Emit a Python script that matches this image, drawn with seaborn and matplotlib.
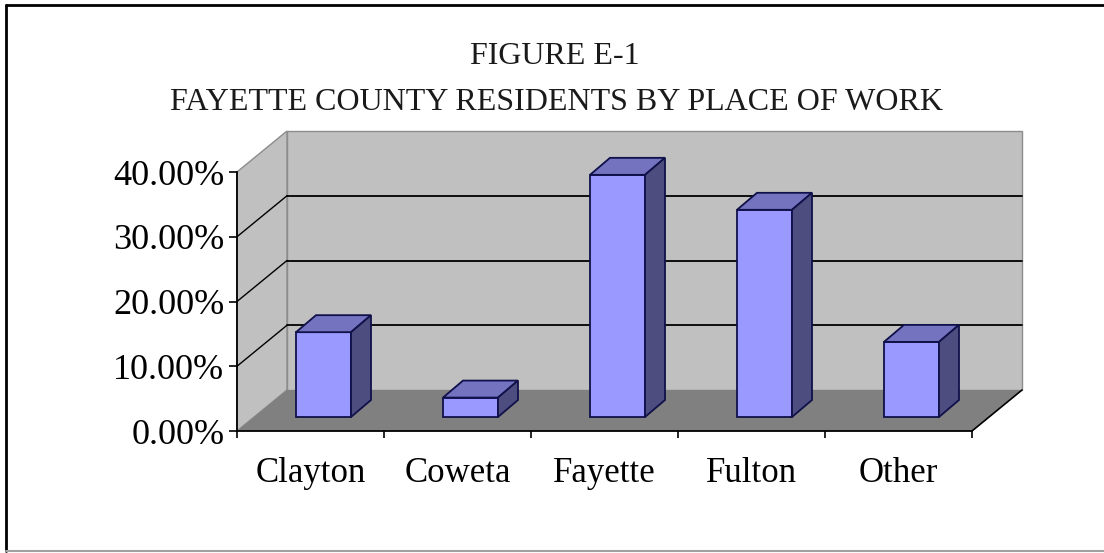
import matplotlib
matplotlib.use("Agg")
import matplotlib.pyplot as plt
import seaborn as sns
import pandas as pd
from matplotlib.patches import Polygon
from matplotlib.lines import Line2D

# ---- data ----
categories = ["Clayton", "Coweta", "Fayette", "Fulton", "Other"]
shares = [13.1, 3.0, 37.4, 32.0, 11.6]          # percent
y_ticks = [0, 10, 20, 30, 40]
y_tick_labels = ["0.00%", "10.00%", "20.00%", "30.00%", "40.00%"]
title_line1 = "FIGURE E-1"
title_line2 = "FAYETTE COUNTY RESIDENTS BY PLACE OF WORK"

sns.set_theme(style="white")
plt.rcParams["font.family"] = ["Liberation Serif", "DejaVu Serif"]

W, H = 1104, 553
fig = plt.figure(figsize=(W / 100, H / 100), dpi=100)
fig.patch.set_facecolor("white")

# geometry in pixels -> data units
PX_CAT = 147.0     # pixels per category
PX_PCT = 6.475     # pixels per percent
ax_left, ax_base, ax_w, ax_h = 237, 431, 784, 294
ax = fig.add_axes([ax_left / W, (H - ax_base) / H, ax_w / W, ax_h / H])
ax.set_facecolor("none")

DX = 50 / PX_CAT       # wall depth offset (x, category units)
DY = 41 / PX_PCT       # wall depth offset (y, percent units)
n = len(categories)
xl, xr = -0.5, n - 0.5
ymax = y_ticks[-1]

wall_c = "#c0c0c0"
floor_c = "#808080"
edge_gray = "#8c8c8c"

# back wall
ax.add_patch(Polygon([(xl + DX, DY), (xr + DX, DY), (xr + DX, ymax + DY), (xl + DX, ymax + DY)],
                     closed=True, facecolor=wall_c, edgecolor=edge_gray, lw=1, zorder=0,
                     clip_on=False))
# left wall
ax.add_patch(Polygon([(xl, 0), (xl + DX, DY), (xl + DX, ymax + DY), (xl, ymax)],
                     closed=True, facecolor=wall_c, edgecolor=edge_gray, lw=1, zorder=0,
                     clip_on=False))
# floor
ax.add_patch(Polygon([(xl, 0), (xr, 0), (xr + DX, DY), (xl + DX, DY)],
                     closed=True, facecolor=floor_c, edgecolor="none", zorder=0.5,
                     clip_on=False))
# gridlines
for v in y_ticks[1:-1]:
    ax.plot([xl + DX, xr + DX], [v + DY, v + DY], color="black", lw=1.3, zorder=0.6,
            clip_on=False)
    ax.plot([xl, xl + DX], [v, v + DY], color="black", lw=1.0, zorder=0.6, clip_on=False)
# floor right edge
ax.plot([xr, xr + DX], [0, DY], color="black", lw=1.2, zorder=0.6, clip_on=False)

# ---- bars ----
df = pd.DataFrame({"place": categories, "share": shares})
BAR_W = 55 / PX_CAT
sns.barplot(data=df, x="place", y="share", width=BAR_W, color="#9999ff",
            saturation=1, edgecolor="#10104a", linewidth=1.3, ax=ax, zorder=3)

off_x, off_y = 13 / PX_CAT, 14 / PX_PCT   # bar placement inside the depth
dzx, dzy = 20 / PX_CAT, 17 / PX_PCT       # bar depth
bars = [p for p in ax.patches if p.get_zorder() == 3]
for p in bars:
    p.set_x(p.get_x() + off_x)
    p.set_y(p.get_y() + off_y)
    x0, y0 = p.get_x(), p.get_y()
    x1, y1 = x0 + p.get_width(), y0 + p.get_height()
    top = Polygon([(x0, y1), (x1, y1), (x1 + dzx, y1 + dzy), (x0 + dzx, y1 + dzy)],
                  closed=True, facecolor="#7373bf", edgecolor="#10104a", lw=1.3, zorder=3)
    side = Polygon([(x1, y0), (x1 + dzx, y0 + dzy), (x1 + dzx, y1 + dzy), (x1, y1)],
                   closed=True, facecolor="#4d4d80", edgecolor="#10104a", lw=1.3, zorder=3)
    ax.add_patch(top)
    ax.add_patch(side)

# limits set after seaborn (it resets categorical limits)
ax.set_xlim(-0.5, -0.5 + ax_w / PX_CAT)
ax.set_ylim(0, ax_h / PX_PCT)

# ---- axes styling ----
for s in ["top", "right"]:
    ax.spines[s].set_visible(False)
ax.spines["left"].set_bounds(0, ymax)
ax.spines["bottom"].set_bounds(xl, xr)
for s in ["left", "bottom"]:
    ax.spines[s].set_color("black")
    ax.spines[s].set_linewidth(1.3)
    ax.spines[s].set_zorder(4)

ax.set_yticks(y_ticks)
ax.set_yticklabels(y_tick_labels)
ax.tick_params(axis="y", which="major", direction="out", length=6, width=1.2,
               color="black", labelsize=26, pad=3, left=True)
ax.set_xticks(range(n))
ax.set_xticklabels(categories)
ax.set_xticks([i - 0.5 for i in range(n + 1)], minor=True)
ax.tick_params(axis="x", which="major", length=0, labelsize=25, pad=19)
ax.tick_params(axis="x", which="minor", direction="out", length=5, width=1.2,
               color="black", bottom=True)
ax.set_xlabel("")
ax.set_ylabel("")
for lab in ax.get_xticklabels() + ax.get_yticklabels():
    lab.set_color("black")

# ---- title ----
fig.text(555 / W, 1 - 57 / H, title_line1, ha="center", va="center",
         fontsize=23, color="#1a1a1a")
fig.text(557 / W, 1 - 102 / H, title_line2, ha="center", va="center",
         fontsize=23, color="#1a1a1a")

# ---- frame ----
fig.add_artist(Line2D([6 / W, 1], [1 - 5 / H, 1 - 5 / H], transform=fig.transFigure,
                      color="black", lw=2))
fig.add_artist(Line2D([6 / W, 6 / W], [1 - 5 / H, 1 - 551 / H], transform=fig.transFigure,
                      color="black", lw=2))
fig.add_artist(Line2D([6 / W, 1], [1 - 551 / H, 1 - 551 / H], transform=fig.transFigure,
                      color="#a0a0a0", lw=1.5))

fig.savefig("out.png", dpi=100, facecolor="white")
